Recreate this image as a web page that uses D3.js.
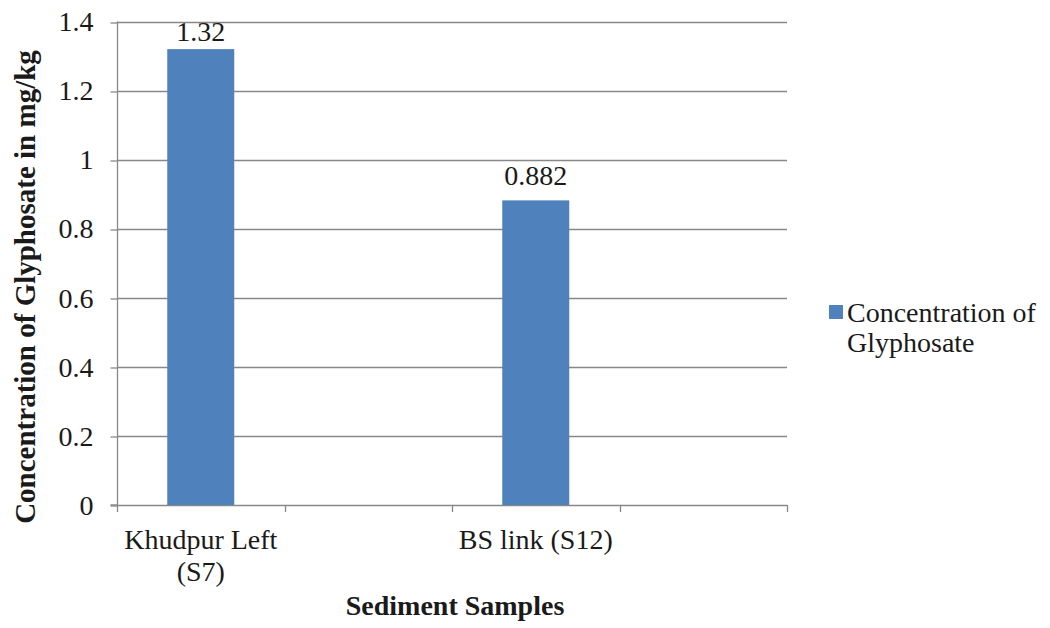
<!DOCTYPE html>
<html>
<head>
<meta charset="utf-8">
<script src="https://cdn.jsdelivr.net/npm/d3@7"></script>
<style>
  html, body { margin: 0; padding: 0; background: #fff; }
  svg { display: block; }
</style>
</head>
<body>
<svg id="chart" width="1050" height="628"></svg>
<script>
// Category slots along the x axis (two slots carry no sample)
const categories = ["Khudpur Left (S7)", "", "BS link (S12)", ""];
const categoryLines = [["Khudpur Left", "(S7)"], [], ["BS link (S12)"], []];
const values = [1.32, null, 0.882, null];
const valueLabels = ["1.32", "", "0.882", ""];
const yTicks = [0, 0.2, 0.4, 0.6, 0.8, 1, 1.2, 1.4];
const seriesName = ["Concentration of", "Glyphosate"];

const FONT = "Liberation Serif";
const svg = d3.select("#chart");
const plot = { left: 117, right: 787, top: 21.5, bottom: 505 };
const textColor = "#1a1a1a";
const gridColor = "#888888";
const barColor = "#4F81BD";
const fs = 28;

const x = d3.scaleBand()
  .domain(d3.range(categories.length))
  .range([plot.left, plot.right])
  .paddingInner(0).paddingOuter(0);
const barW = x.bandwidth() * 0.4;

const y = d3.scaleLinear().domain([0, 1.4]).range([plot.bottom, plot.top]);

// horizontal gridlines
svg.append("g").selectAll("line").data(yTicks.filter(d => d > 0)).join("line")
  .attr("x1", plot.left).attr("x2", plot.right)
  .attr("y1", d => Math.round(y(d)) + 0.5).attr("y2", d => Math.round(y(d)) + 0.5)
  .attr("stroke", gridColor).attr("stroke-width", 1.3);

// y axis
const yAxis = d3.axisLeft(y).tickValues(yTicks).tickSize(7).tickPadding(17)
  .tickFormat(d => d3.format("~g")(d));
const gy = svg.append("g").attr("transform", `translate(${plot.left + 0.5},0)`).call(yAxis)
  .attr("font-family", FONT).attr("font-size", fs);
gy.select(".domain").attr("stroke", gridColor).attr("stroke-width", 1.3).attr("d", `M-7,${plot.bottom}H0V${plot.top}`);
gy.selectAll(".tick line").attr("stroke", gridColor).attr("stroke-width", 1.3)
  .attr("transform", d => `translate(0,${Math.round(y(d)) + 0.5 - y(d)})`);
gy.selectAll(".tick text").attr("fill", textColor).attr("font-size", fs)
  .attr("font-family", FONT).attr("dy", "0.33em");

// x axis baseline and tick marks at category boundaries
const gx = svg.append("g");
gx.append("line").attr("x1", plot.left).attr("x2", plot.right)
  .attr("y1", plot.bottom + 0.5).attr("y2", plot.bottom + 0.5)
  .attr("stroke", gridColor).attr("stroke-width", 1.3);
const boundaries = d3.range(categories.length + 1).map(i => plot.left + i * x.step());
gx.selectAll("line.tk").data(boundaries).join("line").attr("class", "tk")
  .attr("x1", d => Math.round(d) + 0.5).attr("x2", d => Math.round(d) + 0.5)
  .attr("y1", plot.bottom).attr("y2", plot.bottom + 7)
  .attr("stroke", gridColor).attr("stroke-width", 1.3);

// category labels
const catG = svg.append("g").selectAll("text").data(categories.map((c, i) => i)).join("text")
  .attr("x", i => x(i) + x.bandwidth() / 2)
  .attr("y", 549)
  .attr("text-anchor", "middle").attr("font-size", fs)
  .attr("font-family", FONT).attr("fill", textColor);
catG.each(function(i) {
  d3.select(this).selectAll("tspan").data(categoryLines[i]).join("tspan")
    .attr("x", x(i) + x.bandwidth() / 2)
    .attr("dy", (d, k) => k === 0 ? 0 : 32)
    .text(d => d);
});

// bars
const barData = values.map((v, i) => ({ i, v })).filter(d => d.v != null);
svg.append("g").selectAll("rect").data(barData).join("rect")
  .attr("x", d => x(d.i) + (x.bandwidth() - barW) / 2)
  .attr("width", barW)
  .attr("y", d => y(d.v))
  .attr("height", d => y(0) - y(d.v))
  .attr("fill", barColor);

// value labels, kept inside the top of the chart
svg.append("g").selectAll("text").data(barData).join("text")
  .attr("x", d => x(d.i) + x.bandwidth() / 2)
  .attr("y", d => Math.max(y(d.v) - 15, 41))
  .attr("text-anchor", "middle").attr("font-size", fs)
  .attr("font-family", FONT).attr("fill", textColor)
  .text(d => valueLabels[d.i]);

// axis titles
svg.append("text")
  .attr("transform", `translate(35,287) rotate(-90)`)
  .attr("text-anchor", "middle").attr("font-size", 29).attr("font-weight", "bold")
  .attr("font-family", FONT).attr("fill", textColor)
  .text("Concentration of Glyphosate in mg/kg");
svg.append("text")
  .attr("x", 455).attr("y", 615)
  .attr("text-anchor", "middle").attr("font-size", fs).attr("font-weight", "bold")
  .attr("font-family", FONT).attr("fill", textColor)
  .text("Sediment Samples");

// legend
const lg = svg.append("g");
lg.append("rect").attr("x", 829).attr("y", 305).attr("width", 14).attr("height", 14).attr("fill", barColor);
lg.append("text").attr("x", 847).attr("y", 322).attr("font-size", fs)
  .attr("font-family", FONT).attr("fill", textColor)
  .selectAll("tspan").data(seriesName).join("tspan")
  .attr("x", 847).attr("dy", (d, k) => k === 0 ? 0 : 30).text(d => d);
</script>
</body>
</html>
